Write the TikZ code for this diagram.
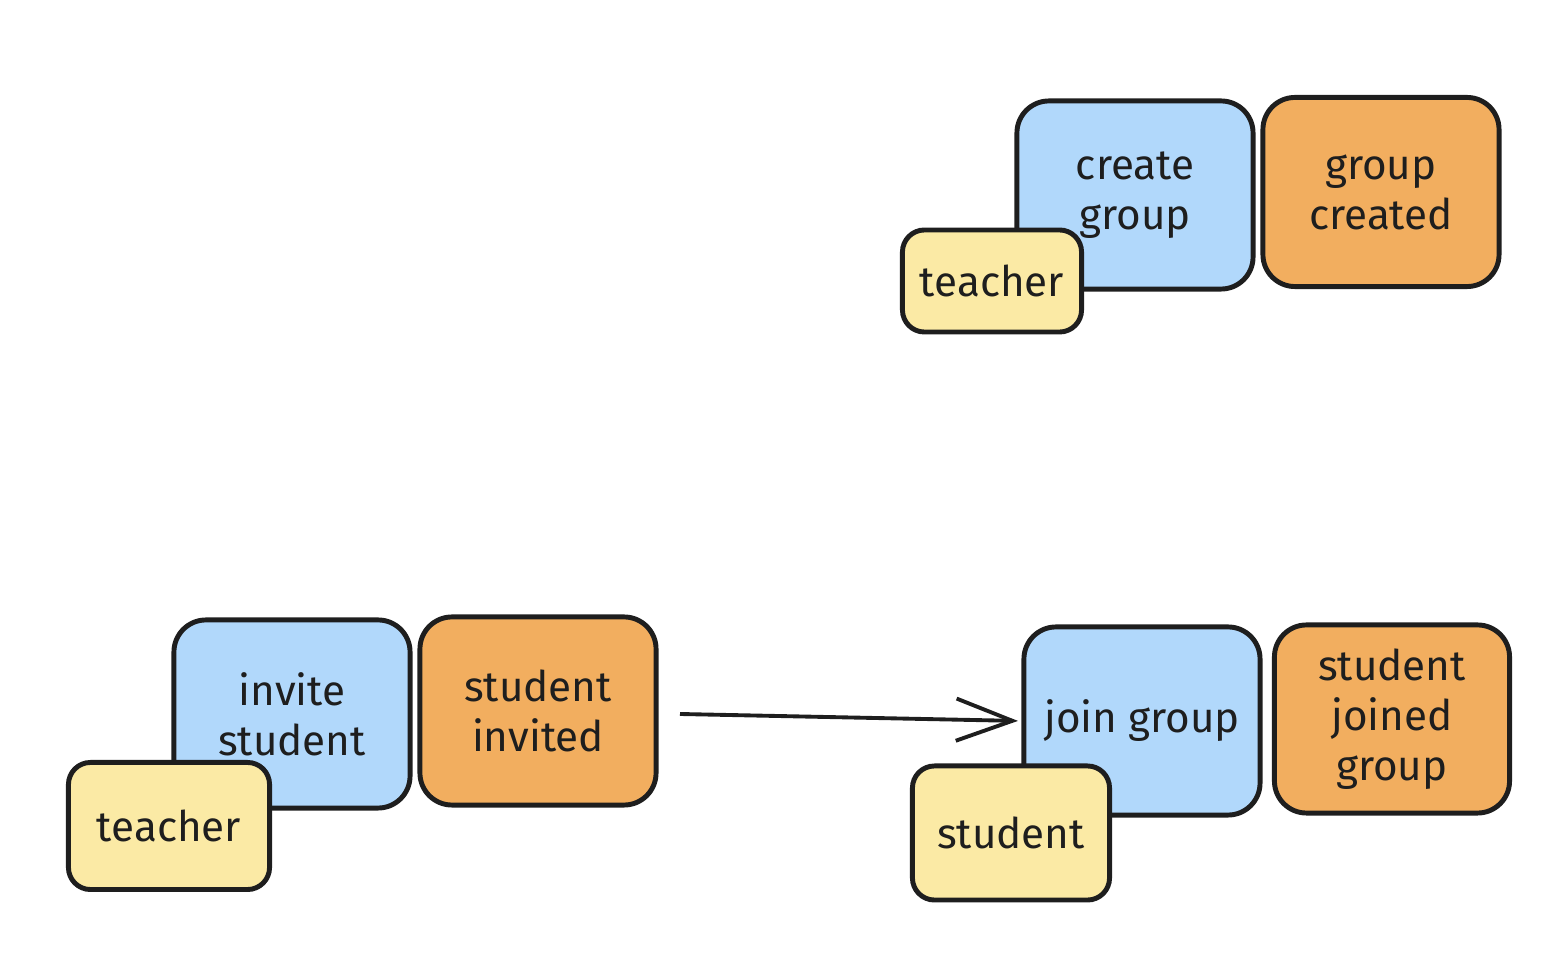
\documentclass[tikz,border=0pt]{standalone}
\usepackage{fontspec}
\setmainfont{Fira Sans}
\usetikzlibrary{arrows.meta}
\definecolor{inkc}{HTML}{1E1E1E}
\definecolor{cmdblue}{HTML}{B1D8FB}
\definecolor{evtorange}{HTML}{F2AE5F}
\definecolor{actyellow}{HTML}{FBEAA5}
\tikzset{
  card/.style={draw=inkc, line width=1.4pt, rounded corners=0.32cm, align=center,
    inner sep=0pt, font=\fontsize{12}{14.2}\selectfont, text=inkc},
  cmdbox/.style={card, fill=cmdblue, minimum width=2.36cm, minimum height=1.88cm},
  evtbox/.style={card, fill=evtorange, minimum width=2.36cm, minimum height=1.88cm},
  actbox/.style={card, fill=actyellow, rounded corners=0.22cm},
  flow/.style={draw=inkc, line width=1.1pt, -{Straight Barb[length=16pt,width=12pt,line width=1.1pt]}}
}
\begin{document}
\begin{tikzpicture}[x=0.01cm,y=-0.01cm]
\useasboundingbox (0,0) rectangle (1568,958);
% top group
\node[cmdbox] (cg) at (1135,195) {create\\group};
\node[evtbox, minimum height=1.89cm] (gc) at (1381,192) {group\\created};
\node[actbox, minimum width=1.79cm, minimum height=1.02cm] (t1) at (992,281) {teacher};
% bottom left
\node[cmdbox] (is) at (292,714) {invite\\student};
\node[evtbox] (si) at (538,711) {student\\invited};
\node[actbox, minimum width=2.01cm, minimum height=1.27cm] (t2) at (169,826) {teacher};
% bottom right
\node[cmdbox] (jg) at (1142,721) {join group};
\node[evtbox, minimum width=2.35cm] (sjg) at (1392,719) {student\\joined\\group};
\node[actbox, minimum width=1.97cm, minimum height=1.34cm] (st) at (1011,833) {student};
% connector
\coordinate (a0) at (680,714);
\draw[flow, shorten >=1pt] (a0) -- (jg.west);
\end{tikzpicture}
\end{document}
